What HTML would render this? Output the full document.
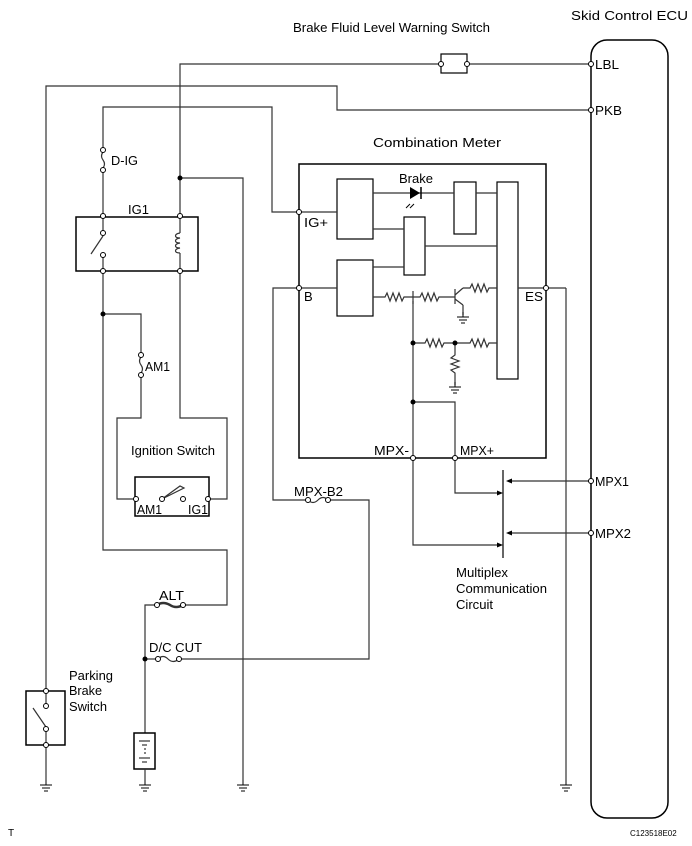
<!DOCTYPE html>
<html><head><style>
body{margin:0;background:#fff}
svg{display:block}
text{font-family:"Liberation Sans",Arial,sans-serif;font-size:13px;fill:#000}
</style></head><body>
<svg width="692" height="846" viewBox="0 0 692 846" xmlns="http://www.w3.org/2000/svg">
<defs>
<g id="gnd"><line x1="0" y1="0" x2="0" y2="5" stroke="#000"/><line x1="-6" y1="5" x2="6" y2="5" stroke="#000"/><line x1="-4" y1="8" x2="4" y2="8" stroke="#000"/><line x1="-2" y1="11" x2="2" y2="11" stroke="#000"/></g>
</defs>
<g fill="none" stroke="#333" stroke-width="1.2">
<rect x="591" y="40" width="77" height="778" rx="16" stroke="#000" stroke-width="1.5"/>
<polyline points="180,178 180,64 441,64"/>
<line x1="467" y1="64" x2="591" y2="64"/>
<rect x="441" y="54" width="26" height="19" stroke="#000"/>
<polyline points="46,691 46,86 337,86 337,110 591,110"/>
<polyline points="103,150 103,107 272,107 272,212 299,212"/>
<line x1="103" y1="170" x2="103" y2="216"/>
<path d="M103,152 q-3,4 0,8 q3,4 0,8"/>
<line x1="180" y1="178" x2="180" y2="216"/>
<polyline points="180,178 243,178 243,780"/>
<rect x="76" y="217" width="122" height="54" stroke="#000" stroke-width="1.5"/>
<line x1="103" y1="216" x2="103" y2="232"/>
<line x1="103" y1="236" x2="91" y2="254"/>
<line x1="103" y1="257" x2="103" y2="271"/>
<line x1="180" y1="216" x2="180" y2="233"/>
<path d="M180,233 c-6,1 -6,5 0,5 c-6,1 -6,5 0,5 c-6,1 -6,5 0,5 c-6,1 -6,5 0,5"/>
<line x1="180" y1="253" x2="180" y2="271"/>
<polyline points="103,271 103,550 227,550 227,605 183,605"/>
<polyline points="103,314 141,314 141,355"/>
<path d="M141,357 q-3,4 0,8 q3,4 0,8"/>
<polyline points="141,375 141,418 117,418 117,499 136,499"/>
<polyline points="180,271 180,418 227,418 227,499 208,499"/>
<rect x="135" y="477" width="74" height="39" stroke="#000" stroke-width="1.5"/>
<path d="M162,499 L180,486 L184,488 Z" fill="#fff"/>
<path d="M157,605 q6,-4 13,0 q6,4 13,0" stroke-width="2.5"/>
<polyline points="157,605 145,605 145,733"/>
<path d="M158,659 q5,-5 10,0 q5,5 11,0"/>
<line x1="145" y1="659" x2="158" y2="659"/>
<polyline points="179,659 369,659 369,500 328,500"/>
<path d="M308,500 q5,5 10,0 q5,-5 10,0"/>
<polyline points="308,500 273,500 273,288 299,288"/>
<rect x="134" y="733" width="21" height="36" stroke="#000" stroke-width="1.5"/>
<line x1="139" y1="741" x2="150" y2="741"/><line x1="142" y1="745" x2="147" y2="745"/>
<line x1="145" y1="748" x2="145" y2="756" stroke-dasharray="2,2"/>
<line x1="139" y1="758" x2="150" y2="758"/><line x1="142" y1="762" x2="147" y2="762"/>
<line x1="145" y1="769" x2="145" y2="780"/>
<rect x="26" y="691" width="39" height="54" stroke="#000" stroke-width="1.5"/>
<line x1="46" y1="691" x2="46" y2="707"/>
<line x1="33" y1="708" x2="46" y2="727"/>
<line x1="46" y1="729" x2="46" y2="780"/>
<rect x="299" y="164" width="247" height="294" stroke="#000" stroke-width="1.5"/>
<rect x="337" y="179" width="36" height="60" stroke="#000"/>
<rect x="337" y="260" width="36" height="56" stroke="#000"/>
<rect x="404" y="217" width="21" height="58" stroke="#000"/>
<rect x="454" y="182" width="22" height="52" stroke="#000"/>
<rect x="497" y="182" width="21" height="197" stroke="#000"/>
<line x1="299" y1="212" x2="337" y2="212"/>
<line x1="299" y1="288" x2="337" y2="288"/>
<line x1="373" y1="193" x2="454" y2="193"/>
<line x1="476" y1="193" x2="497" y2="193"/>
<line x1="373" y1="229" x2="404" y2="229"/>
<line x1="425" y1="246" x2="497" y2="246"/>
<line x1="373" y1="267" x2="404" y2="267"/>
<line x1="518" y1="288" x2="566" y2="288"/>
<line x1="566" y1="288" x2="566" y2="780"/>
<polyline points="373,297 385,297 387,293 390,301 393,293 396,301 399,293 402,301 404,297 413,297"/>
<line x1="413" y1="291" x2="413" y2="304"/>
<polyline points="413,297 420,297 422,293 425,301 428,293 431,301 434,293 437,301 439,297 455,297"/>
<line x1="455" y1="289" x2="455" y2="304"/>
<line x1="455" y1="295" x2="463" y2="288"/><line x1="455" y1="299" x2="463" y2="305"/>
<line x1="463" y1="305" x2="463" y2="315"/>
<polyline points="463,288 470,288 472,284 475,292 478,284 481,292 484,284 487,292 489,288 497,288"/>
<line x1="413" y1="301" x2="413" y2="458"/>
<polyline points="413,343 425,343 427,339 430,347 433,339 436,347 439,339 442,347 444,343 470,343 472,339 475,347 478,339 481,347 484,339 487,347 489,343 497,343"/>
<polyline points="455,343 455,355 451,358 459,361 451,364 459,367 451,370 455,373 455,385"/>
<polyline points="413,402 455,402 455,493 500,493"/>
<polyline points="413,458 413,545 500,545"/>
<line x1="503" y1="470" x2="503" y2="558" stroke="#000"/>
<line x1="508" y1="481" x2="590" y2="481"/>
<line x1="508" y1="533" x2="590" y2="533"/>
</g>
<g fill="#000">
<path d="M503,493 l-6,-2.5 v5z"/><path d="M503,545 l-6,-2.5 v5z"/>
<path d="M506,481 l6,-2.5 v5z"/><path d="M506,533 l6,-2.5 v5z"/>
<path d="M410,187 L410,199 L420,193 Z"/><line x1="421" y1="187" x2="421" y2="199" stroke="#000" stroke-width="1.5"/>
<line x1="410" y1="204" x2="406" y2="208" stroke="#000"/><line x1="414" y1="204" x2="410" y2="208" stroke="#000"/>
<circle cx="180" cy="178" r="2.5"/><circle cx="103" cy="314" r="2.5"/>
<circle cx="145" cy="659" r="2.5"/><circle cx="413" cy="343" r="2.5"/>
<circle cx="455" cy="343" r="2.5"/><circle cx="413" cy="402" r="2.5"/>
</g>
<g stroke="#000" fill="none">
<use href="#gnd" x="46" y="780"/><use href="#gnd" x="145" y="780"/><use href="#gnd" x="243" y="780"/><use href="#gnd" x="566" y="780"/>
<use href="#gnd" x="463" y="312"/><use href="#gnd" x="455" y="382"/>
</g>
<g fill="#fff" stroke="#000">
<circle cx="441" cy="64" r="2.5"/><circle cx="467" cy="64" r="2.5"/>
<circle cx="591" cy="64" r="2.5"/><circle cx="591" cy="110" r="2.5"/>
<circle cx="591" cy="481" r="2.5"/><circle cx="591" cy="533" r="2.5"/>
<circle cx="103" cy="150" r="2.5"/><circle cx="103" cy="170" r="2.5"/>
<circle cx="103" cy="216" r="2.5"/><circle cx="180" cy="216" r="2.5"/>
<circle cx="103" cy="271" r="2.5"/><circle cx="180" cy="271" r="2.5"/>
<circle cx="103" cy="233" r="2.5"/><circle cx="103" cy="255" r="2.5"/>
<circle cx="141" cy="355" r="2.5"/><circle cx="141" cy="375" r="2.5"/>
<circle cx="136" cy="499" r="2.5"/><circle cx="162" cy="499" r="2.5"/>
<circle cx="183" cy="499" r="2.5"/><circle cx="208" cy="499" r="2.5"/>
<circle cx="157" cy="605" r="2.5"/><circle cx="183" cy="605" r="2.5"/>
<circle cx="158" cy="659" r="2.5"/><circle cx="179" cy="659" r="2.5"/>
<circle cx="308" cy="500" r="2.5"/><circle cx="328" cy="500" r="2.5"/>
<circle cx="46" cy="691" r="2.5"/><circle cx="46" cy="706" r="2.5"/>
<circle cx="46" cy="729" r="2.5"/><circle cx="46" cy="745" r="2.5"/>
<circle cx="299" cy="212" r="2.5"/><circle cx="299" cy="288" r="2.5"/>
<circle cx="546" cy="288" r="2.5"/>
<circle cx="413" cy="458" r="2.5"/><circle cx="455" cy="458" r="2.5"/>
</g>
<g lengthAdjust="spacingAndGlyphs">
<text x="293" y="32" textLength="197" lengthAdjust="spacingAndGlyphs">Brake Fluid Level Warning Switch</text>
<text x="571" y="20" textLength="117" lengthAdjust="spacingAndGlyphs">Skid Control ECU</text>
<text x="595" y="69" textLength="24" lengthAdjust="spacingAndGlyphs">LBL</text>
<text x="595" y="115" textLength="27" lengthAdjust="spacingAndGlyphs">PKB</text>
<text x="373" y="147" textLength="128" lengthAdjust="spacingAndGlyphs">Combination Meter</text>
<text x="399" y="183" textLength="34" lengthAdjust="spacingAndGlyphs">Brake</text>
<text x="304" y="227" textLength="24" lengthAdjust="spacingAndGlyphs">IG+</text>
<text x="304" y="301">B</text>
<text x="525" y="301" textLength="18" lengthAdjust="spacingAndGlyphs">ES</text>
<text x="374" y="455" textLength="35" lengthAdjust="spacingAndGlyphs">MPX-</text>
<text x="460" y="455" textLength="34" lengthAdjust="spacingAndGlyphs">MPX+</text>
<text x="595" y="486" textLength="34" lengthAdjust="spacingAndGlyphs">MPX1</text>
<text x="595" y="538" textLength="36" lengthAdjust="spacingAndGlyphs">MPX2</text>
<text x="456" y="577" textLength="52" lengthAdjust="spacingAndGlyphs">Multiplex</text>
<text x="456" y="593" textLength="91" lengthAdjust="spacingAndGlyphs">Communication</text>
<text x="456" y="609" textLength="37" lengthAdjust="spacingAndGlyphs">Circuit</text>
<text x="111" y="165" textLength="27" lengthAdjust="spacingAndGlyphs">D-IG</text>
<text x="128" y="214" textLength="21" lengthAdjust="spacingAndGlyphs">IG1</text>
<text x="145" y="371" textLength="25" lengthAdjust="spacingAndGlyphs">AM1</text>
<text x="131" y="455" textLength="84" lengthAdjust="spacingAndGlyphs">Ignition Switch</text>
<text x="137" y="514" textLength="25" lengthAdjust="spacingAndGlyphs">AM1</text>
<text x="188" y="514" textLength="20" lengthAdjust="spacingAndGlyphs">IG1</text>
<text x="294" y="496" textLength="49" lengthAdjust="spacingAndGlyphs">MPX-B2</text>
<text x="159" y="600" textLength="25" lengthAdjust="spacingAndGlyphs">ALT</text>
<text x="149" y="652" textLength="53" lengthAdjust="spacingAndGlyphs">D/C CUT</text>
<text x="69" y="680" textLength="44" lengthAdjust="spacingAndGlyphs">Parking</text>
<text x="69" y="695" textLength="33" lengthAdjust="spacingAndGlyphs">Brake</text>
<text x="69" y="711" textLength="38" lengthAdjust="spacingAndGlyphs">Switch</text>
</g>
<text x="8" y="836" style="font-size:10px">T</text>
<text x="630" y="836" style="font-size:8px">C123518E02</text>
</svg>
</body></html>
